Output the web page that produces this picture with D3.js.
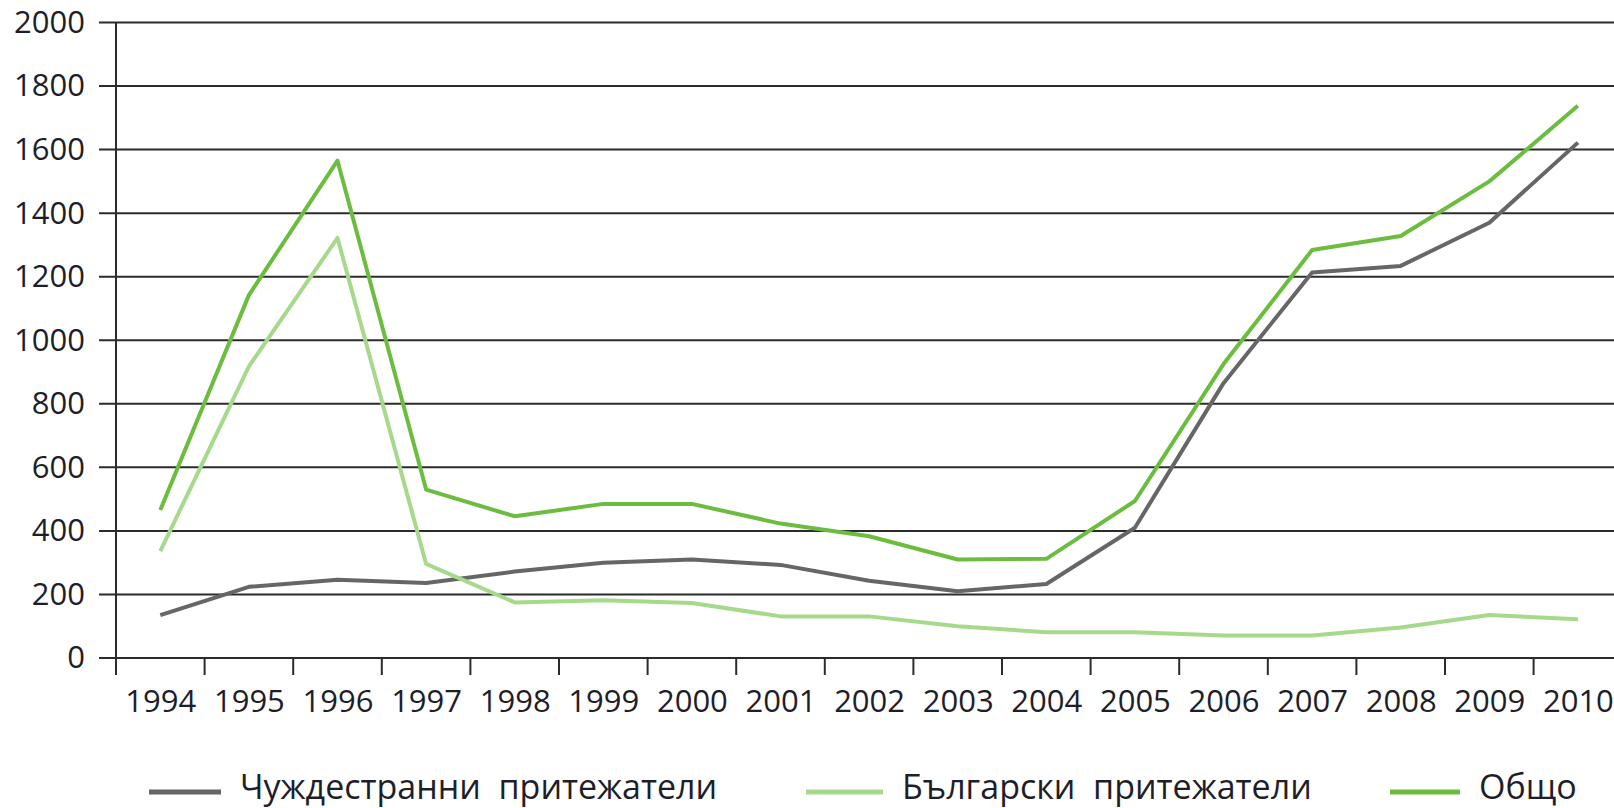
<!DOCTYPE html>
<html>
<head>
<meta charset="utf-8">
<script src="https://cdn.jsdelivr.net/npm/d3@7"></script>
<style>
  body { margin: 0; background: #fff; }
  svg { display: block; font-family: "Open Sans", sans-serif; }
</style>
</head>
<body>
<svg id="chart" width="1614" height="808"></svg>
<script>
// Data
const years = ["1994", "1995", "1996", "1997", "1998", "1999", "2000", "2001", "2002",
  "2003", "2004", "2005", "2006", "2007", "2008", "2009", "2010"];
const foreignOwners = [135, 224, 246, 236, 272, 300, 310, 293, 243, 210, 233, 410, 865, 1213, 1234, 1370, 1622];
const bulgarianOwners = [336, 918, 1322, 296, 175, 182, 173, 131, 131, 100, 81, 81, 71, 71, 96, 135, 122];
const totalOwners = [466, 1142, 1565, 530, 446, 485, 485, 423, 383, 310, 312, 494, 925, 1284, 1328, 1500, 1738];
const yTicks = [0, 200, 400, 600, 800, 1000, 1200, 1400, 1600, 1800, 2000];
const seriesNames = ["Чуждестранни  притежатели", "Български  притежатели", "Общо"];
const seriesColors = ["#666666", "#a6d98b", "#6cbd3f"];

const width = 1614;
const margin = { left: 116, top: 22.5, bottom: 658 };
const step = 88.6;
const textColor = "#1e1e2a";

const svg = d3.select("#chart");

// Scales
const xScale = d3.scaleBand()
  .domain(years)
  .range([margin.left, margin.left + step * years.length]);

const yScale = d3.scaleLinear()
  .domain([0, 2000])
  .range([margin.bottom, margin.top]);

// Horizontal grid lines (they poke out left of the axis like ticks)
svg.append("g")
  .selectAll("line")
  .data(yTicks)
  .join("line")
  .attr("x1", margin.left - 17)
  .attr("x2", width)
  .attr("y1", (d) => yScale(d))
  .attr("y2", (d) => yScale(d))
  .attr("stroke", "#2b2b2b")
  .attr("stroke-width", 2);

// Y axis labels
const yAxis = svg.append("g")
  .attr("transform", `translate(${margin.left},0)`)
  .call(d3.axisLeft(yScale).tickValues(yTicks).tickFormat(d3.format("d")).tickSize(0).tickPadding(31));
yAxis.select(".domain").remove();
yAxis.selectAll("text")
  .attr("font-size", 31)
  .attr("font-family", "Open Sans")
  .attr("font-weight", 500)
  .attr("fill", textColor);

// Vertical axis line
svg.append("line")
  .attr("x1", margin.left)
  .attr("x2", margin.left)
  .attr("y1", margin.top)
  .attr("y2", margin.bottom + 17)
  .attr("stroke", "#2b2b2b")
  .attr("stroke-width", 2);

// X ticks sit on the band boundaries
svg.append("g")
  .selectAll("line")
  .data(years)
  .join("line")
  .attr("x1", (d) => xScale(d))
  .attr("x2", (d) => xScale(d))
  .attr("y1", margin.bottom)
  .attr("y2", margin.bottom + 17)
  .attr("stroke", "#2b2b2b")
  .attr("stroke-width", 2);

// X axis labels in the middle of each band
const xAxis = svg.append("g")
  .attr("transform", `translate(${xScale.bandwidth() / 2},${margin.bottom})`)
  .call(d3.axisBottom(d3.scalePoint().domain(years).range([xScale(years[0]), xScale(years[years.length - 1])]))
    .tickSize(0).tickPadding(32));
xAxis.select(".domain").remove();
xAxis.selectAll("text")
  .attr("font-size", 31)
  .attr("font-family", "Open Sans")
  .attr("font-weight", 500)
  .attr("fill", textColor);

// Lines
const line = d3.line()
  .x((d, i) => xScale(years[i]) + xScale.bandwidth() / 2)
  .y((d) => yScale(d));

const allSeries = [foreignOwners, bulgarianOwners, totalOwners];

svg.append("g")
  .selectAll("path")
  .data(allSeries)
  .join("path")
  .attr("d", (d) => line(d))
  .attr("fill", "none")
  .attr("stroke", (d, i) => seriesColors[i])
  .attr("stroke-width", 4)
  .attr("stroke-linejoin", "round");

// Legend
const legendX = [149, 806, 1390];
const legendLen = [72, 77, 70];
const legend = svg.append("g")
  .selectAll("g")
  .data(seriesNames)
  .join("g")
  .attr("transform", (d, i) => `translate(${legendX[i]},792)`);

legend.append("line")
  .attr("x1", 0)
  .attr("x2", (d, i) => legendLen[i])
  .attr("stroke", (d, i) => seriesColors[i])
  .attr("stroke-width", 5);

legend.append("text")
  .attr("x", (d, i) => legendLen[i] + 19)
  .attr("y", 7)
  .attr("font-size", 34)
  .attr("font-weight", 500)
  .attr("fill", textColor)
  .style("white-space", "pre")
  .text((d) => d);
</script>
</body>
</html>
